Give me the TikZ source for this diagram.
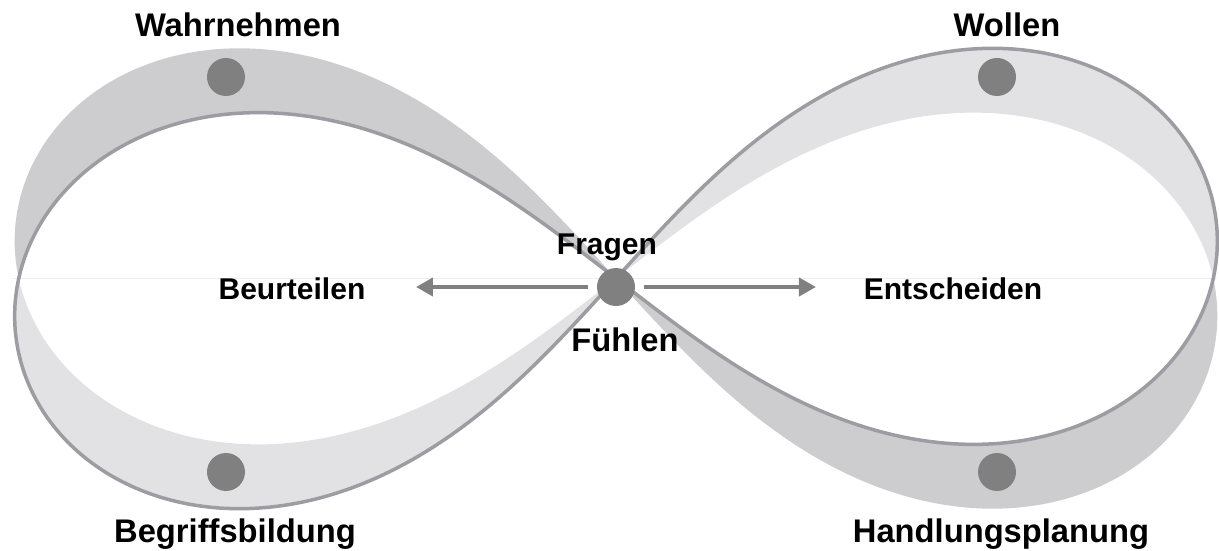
\documentclass[tikz,border=0pt]{standalone}
\usepackage{fontspec}
\setmainfont{Liberation Sans}
\usetikzlibrary{arrows.meta}
\definecolor{banddark}{HTML}{CDCDD0}
\definecolor{bandlight}{HTML}{E2E2E5}
\definecolor{loopline}{HTML}{9D9CA3}
\definecolor{dotgray}{HTML}{808080}
\definecolor{faint}{HTML}{EEEEEE}
\begin{document}
\begin{tikzpicture}[x=1pt,y=1pt,
  declare function={lu(\t)=603*cos(\t)/(1+sin(\t)^2); lv(\t)=0.927*603*sin(\t)*cos(\t)/(1+sin(\t)^2);},
  dot/.style={circle,fill=dotgray,minimum size=38pt,inner sep=0pt},
  lbl/.style={font=\bfseries\fontsize{32.7}{36}\selectfont,anchor=base,inner sep=0pt},
  mlbl/.style={font=\bfseries\fontsize{30}{33}\selectfont,anchor=base,inner sep=0pt},
  arr/.style={draw=dotgray,line width=4pt,-{Triangle[length=17pt,width=18pt]},shorten <=9pt}]
\useasboundingbox (-616,-272.5) rectangle (603,278.5);
\def\Spath{plot[smooth cycle,domain=0:358.5,samples=240] ({lu(\x)*cos(5)-lv(\x)*sin(5)},{lu(\x)*sin(5)+lv(\x)*cos(5)})}
\def\Opath{plot[smooth cycle,domain=0:358.5,samples=240] ({lu(\x)*cos(5)+lv(\x)*sin(5)},{-lu(\x)*sin(5)+lv(\x)*cos(5)})}
% faint horizontal line
\draw[faint,line width=1pt] (-603,0) -- (601,0);
% bands
\begin{scope}
  \clip (-620,0) rectangle (0,300);
  \fill[banddark,even odd rule] \Spath \Opath;
\end{scope}
\begin{scope}
  \clip (-620,0) rectangle (0,-300);
  \fill[bandlight,even odd rule] \Spath \Opath;
\end{scope}
\begin{scope}
  \clip (0,0) rectangle (620,300);
  \fill[bandlight,even odd rule] \Spath \Opath;
\end{scope}
\begin{scope}
  \clip (0,0) rectangle (620,-300);
  \fill[banddark,even odd rule] \Spath \Opath;
\end{scope}
% loop stroke
\draw[loopline,line width=3.5pt] \Spath;
% dots
\node[dot] (center) at (0,-8.5) {};
\node[dot] (dwahr) at (-390,201.5) {};
\node[dot] (dwoll) at (381,201.5) {};
\node[dot] (dbegr) at (-390,-193.5) {};
\node[dot] (dhand) at (381,-193.5) {};
% arrows
\coordinate (lend) at (-200,-8.5);
\coordinate (rend) at (200,-8.5);
\draw[arr] (center) -- (lend);
\draw[arr] (center) -- (rend);
% labels
\node[lbl] (wahr) at (-378,241.5) {Wahrnehmen};
\node[lbl] (woll) at (391,241.5) {Wollen};
\node[lbl] (begr) at (-381,-263.5) {Begriffsbildung};
\node[lbl] (hand) at (385,-263.5) {Handlungsplanung};
\node[mlbl] (frag) at (-9,23.5) {Fragen};
\node[lbl] (fuehl) at (9,-73.5) {Fühlen};
\node[mlbl] (beur) at (-324,-21.5) {Beurteilen};
\node[mlbl] (ents) at (337,-21.5) {Entscheiden};
\end{tikzpicture}
\end{document}
